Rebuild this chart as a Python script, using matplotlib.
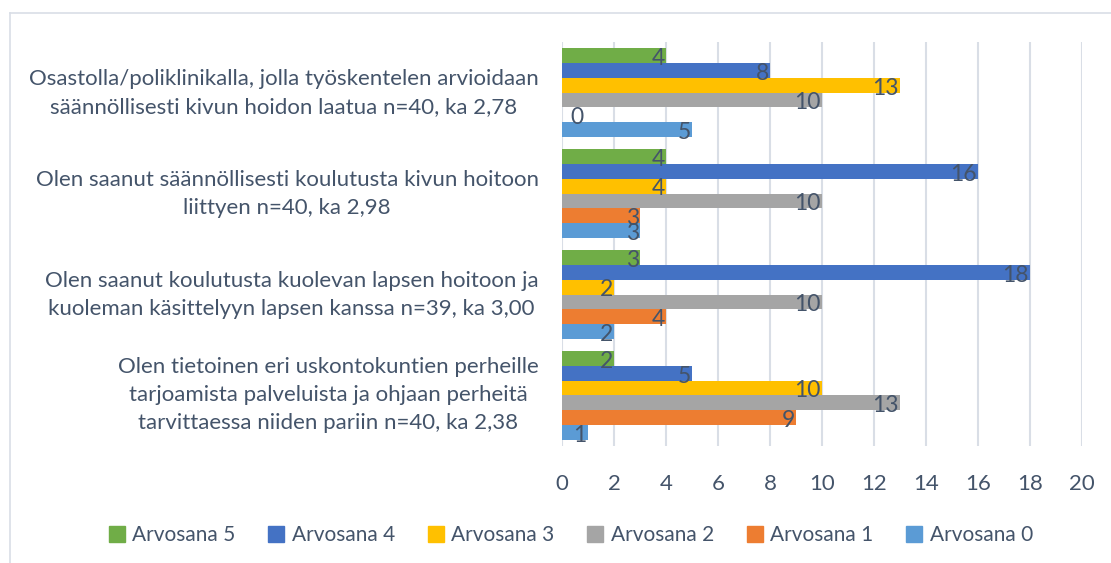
import matplotlib.pyplot as plt
import numpy as np
from matplotlib.lines import Line2D

# kategoriat alhaalta ylos
kysymykset = [
    "Olen tietoinen eri uskontokuntien perheille\ntarjoamista palveluista ja ohjaan perheitä\ntarvittaessa niiden pariin n=40, ka 2,38",
    "Olen saanut koulutusta kuolevan lapsen hoitoon ja\nkuoleman käsittelyyn lapsen kanssa n=39, ka 3,00",
    "Olen saanut säännöllisesti koulutusta kivun hoitoon\nliittyen n=40, ka 2,98",
    "Osastolla/poliklinikalla, jolla työskentelen arvioidaan\nsäännöllisesti kivun hoidon laatua n=40, ka 2,78",
]
arvosana0 = [1, 2, 3, 5]
arvosana1 = [9, 4, 3, 0]
arvosana2 = [13, 10, 10, 10]
arvosana3 = [10, 2, 4, 13]
arvosana4 = [5, 18, 16, 8]
arvosana5 = [2, 3, 4, 4]

sarjat = ["Arvosana 0", "Arvosana 1", "Arvosana 2", "Arvosana 3", "Arvosana 4", "Arvosana 5"]
arvot = [arvosana0, arvosana1, arvosana2, arvosana3, arvosana4, arvosana5]
varit = ["#5B9BD5", "#ED7D31", "#A5A5A5", "#FFC000", "#4472C4", "#70AD47"]

tekstivari = "#44546A"
plt.rcParams['font.family'] = ['Lato', 'DejaVu Sans']

fig = plt.figure(figsize=(11.11, 5.63), dpi=100)
ax = fig.add_axes([0.506, 0.208, 0.468, 0.717])

leveys = 0.88 / 6
y = np.arange(len(kysymykset))
for i, (nimi, v, c) in enumerate(zip(sarjat, arvot, varit)):
    pos = y - 0.44 + leveys * (i + 0.5)
    ax.barh(pos, v, height=leveys, color=c, label=nimi, zorder=2)
    for yy, vv in zip(pos, v):
        if vv == 0:
            ax.annotate(str(vv), (0, yy), xytext=(6, -2), textcoords='offset points',
                        ha='left', va='center', fontsize=16.5, color=tekstivari, zorder=3)
        else:
            ax.annotate(str(vv), (vv, yy), xytext=(-1, -2), textcoords='offset points',
                        ha='right', va='center', fontsize=16.5, color=tekstivari, zorder=3)

ax.set_xlim(0, 20)
ax.set_ylim(-0.5, 3.5)
ax.set_xticks(range(0, 21, 2))
ax.set_yticks(y)
ax.set_yticklabels(kysymykset, multialignment='center', linespacing=1.5, va='center')
ax.tick_params(axis='both', length=0, labelsize=16, labelcolor=tekstivari)
ax.tick_params(axis='x', pad=20)
ax.tick_params(axis='y', pad=17)
ax.grid(axis='x', color='#D9DEE6', linewidth=1.5, zorder=0)
for s in ax.spines.values():
    s.set_visible(False)

kahvat = [Line2D([], [], marker='s', linestyle='', markersize=11, color=c) for c in varit[::-1]]
fig.legend(kahvat, sarjat[::-1], loc='center', bbox_to_anchor=(0.514, 0.05), ncol=6,
           frameon=False, fontsize=15, labelcolor=tekstivari, handlelength=0.7,
           handletextpad=0.4, columnspacing=1.6)

# kehys
fig.add_artist(Line2D([0.009, 0.009], [0, 0.977], color='#D9DEE6', linewidth=1.2))
fig.add_artist(Line2D([0.009, 1.0], [0.977, 0.977], color='#D9DEE6', linewidth=1.2))

fig.savefig('out.png', dpi=100)
